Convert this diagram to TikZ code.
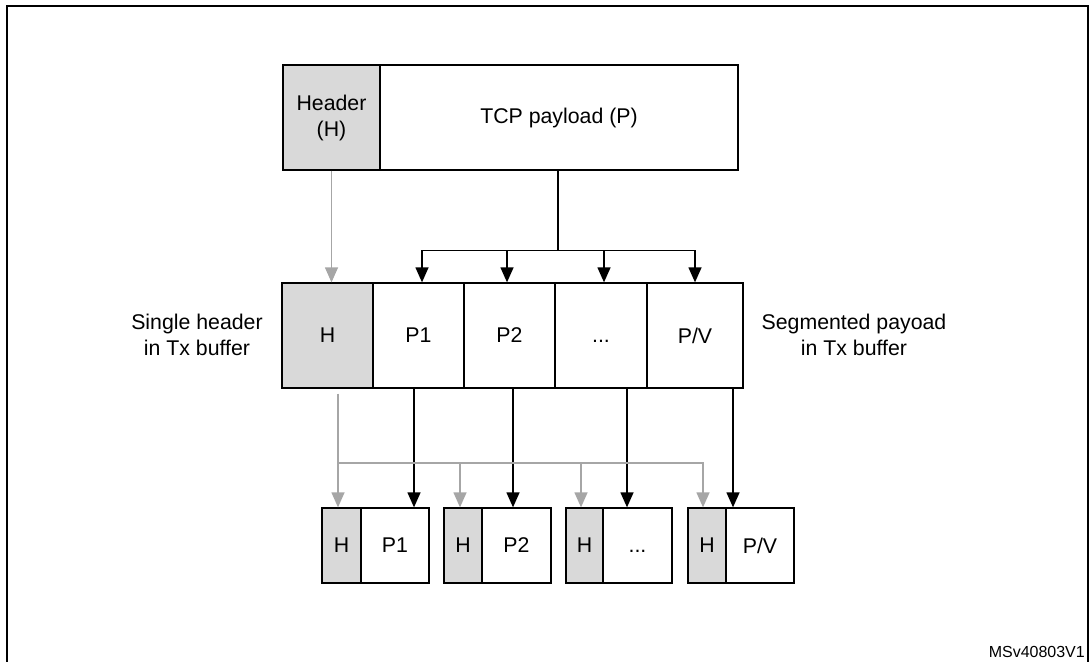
\documentclass[tikz,border=0pt]{standalone}
\usepackage{fontspec}
\setmainfont{Liberation Sans}
\usetikzlibrary{arrows.meta,calc}
\definecolor{hfill}{HTML}{D9D9D9}
\definecolor{garr}{HTML}{A6A6A6}
\begin{document}
\begin{tikzpicture}[x=1pt,y=-1pt,
  every node/.style={font=\fontsize{21.3}{26}\selectfont},
  cell/.style={draw=black,line width=1.3pt,inner sep=0pt,align=center,fill=white},
  hcell/.style={cell,fill=hfill},
  barrow/.style={draw=black,line width=1.3pt,-{Triangle[width=13pt,length=15pt]}},
  garrow/.style={draw=garr,line width=1.3pt,-{Triangle[width=13pt,length=15pt]}},
  gline/.style={draw=garr,line width=1.3pt},
  bline/.style={draw=black,line width=1.3pt},
  lbl/.style={align=center,inner sep=0pt}]
\useasboundingbox (0,0) rectangle (1089,661);
\clip (0,0) rectangle (1089,661);
\fill[white] (0,0) rectangle (1089,661);
\draw[line width=2pt] (7,6) rectangle (1088,700);
% top
\node[hcell,minimum width=97pt,minimum height=105pt] (hdr) at (331.5,117.5) {Header\\(H)};
\node[cell,minimum width=358pt,minimum height=105pt] (pay) at (559,117.5) {TCP payload (P)};
% middle
\node[hcell,minimum width=91pt,minimum height=105pt] (hm) at (327.5,335.5) {H};
\node[cell,minimum width=91pt,minimum height=105pt] (p1) at (418.5,335.5) {P1};
\node[cell,minimum width=91pt,minimum height=105pt] (p2) at (509.5,335.5) {P2};
\node[cell,minimum width=92pt,minimum height=105pt] (pd) at (601,335.5) {\vphantom{P1}...};
\node[cell,minimum width=96pt,minimum height=105pt] (pv) at (695,335.5) {P/V};
\node[lbl] (ll) at (197,335) {Single header\\in Tx buffer};
\node[lbl] (rl) at (854,335) {Segmented payoad\\in Tx buffer};
% bottom
\node[hcell,minimum width=39pt,minimum height=75pt] (bh1) at (341.5,545.5) {H};
\node[cell,minimum width=68pt,minimum height=75pt] (bp1) at (395,545.5) {P1};
\node[hcell,minimum width=38pt,minimum height=75pt] (bh2) at (463,545.5) {H};
\node[cell,minimum width=69pt,minimum height=75pt] (bp2) at (516.5,545.5) {P2};
\node[hcell,minimum width=37pt,minimum height=75pt] (bh3) at (584.5,545.5) {H};
\node[cell,minimum width=69pt,minimum height=75pt] (bpd) at (637.5,545.5) {\vphantom{P1}...};
\node[hcell,minimum width=38pt,minimum height=75pt] (bh4) at (707,545.5) {H};
\node[cell,minimum width=68pt,minimum height=75pt] (bpv) at (760,545.5) {P/V};
\node[anchor=north east,inner sep=0pt,font=\fontsize{16}{18}\selectfont] (id) at (1085,646) {MSv40803V1};
% top arrows
\draw[garrow] (hdr.south) -- (hm.north -| hdr.south);
\coordinate (split) at ($(pay.south)+(-1,80)$);
\coordinate (t1) at ([xshift=3.5pt]p1.north);
\coordinate (t2) at ([xshift=-2.5pt]p2.north);
\coordinate (t3) at ([xshift=3pt]pd.north);
\draw[bline] (pay.south -| split) -- (split);
\draw[barrow] (split) -| (t1);
\draw[barrow] (split) -| (pv.north);
\draw[barrow] (split -| t2) -- (t2);
\draw[barrow] (split -| t3) -- (t3);
% black lower arrows
\draw[barrow] ([xshift=-4.5pt]p1.south) -- ([xshift=19pt]bp1.north);
\draw[barrow] ([xshift=3.5pt]p2.south) -- ([xshift=-3.5pt]bp2.north);
\draw[barrow] ([xshift=26pt]pd.south) -- ([xshift=-10.5pt]bpd.north);
\draw[barrow] ([xshift=38pt]pv.south) -- ([xshift=-27pt]bpv.north);
% grey lower arrows
\coordinate (gsplit) at (338,463);
\draw[garrow] ([xshift=10.5pt,yshift=-5pt]hm.south) -- ([xshift=-3.5pt]bh1.north);
\draw[garrow] (gsplit) -| ([xshift=-4pt]bh4.north);
\coordinate (g2) at ([xshift=-3pt]bh2.north);
\coordinate (g3) at ([xshift=-3.5pt]bh3.north);
\draw[garrow] (gsplit -| g2) -- (g2);
\draw[garrow] (gsplit -| g3) -- (g3);
\end{tikzpicture}
\end{document}
